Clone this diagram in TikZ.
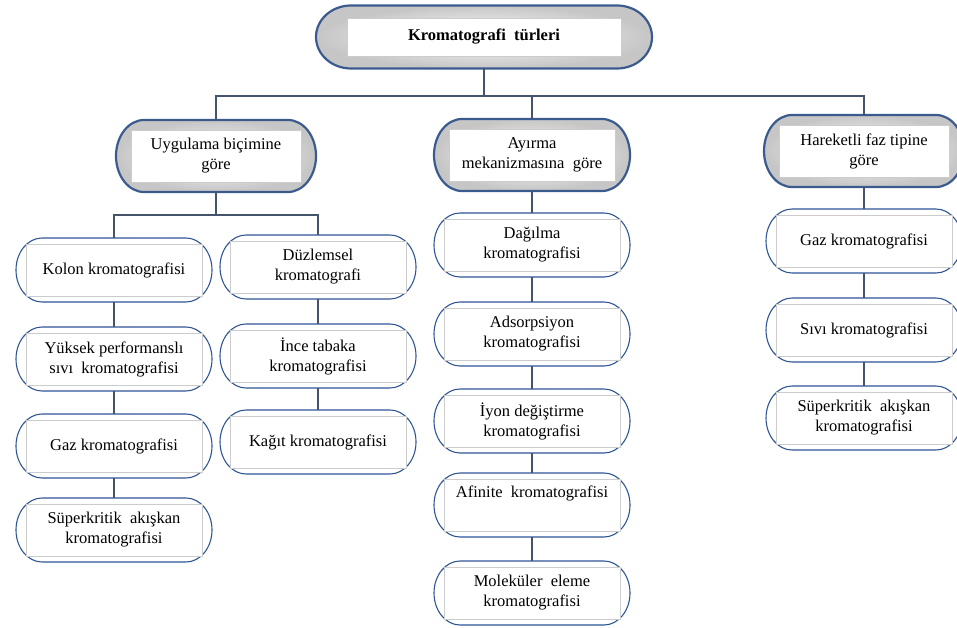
\documentclass[tikz,border=0pt]{standalone}
\usepackage{fontspec}
\setmainfont{Liberation Serif}
\usetikzlibrary{calc,backgrounds}
\definecolor{pillblue}{HTML}{2F5597}
\definecolor{mainblue}{HTML}{3B5B8E}
\definecolor{linkgray}{HTML}{44546A}
\begin{document}
\begin{tikzpicture}
        [x=1pt, y=1pt,
        font=\fontsize{16.5}{20}\selectfont,
        pill/.style 2 args={append after command={\pgfextra{\begin{pgfonlayer}{background}
            \path[#1] let \p1=(\tikzlastnode.south west), \p2=(\tikzlastnode.north east), \n1={(\y2-\y1)/2} in
            (\x1+#2,\y2) -- (\x2-#2,\y2) arc[start angle=90, end angle=-90, x radius=#2, y radius=\n1]
            -- (\x1+#2,\y1) arc[start angle=270, end angle=90, x radius=#2, y radius=\n1] -- cycle;
            \end{pgfonlayer}}}},
        box/.style={draw=gray!40, line width=0.8pt, fill=white, align=center, inner sep=0pt},
        mainpill/.style={draw=mainblue, line width=2.2pt, inner color=white, outer color=gray!45},
        leaf/.style={box, minimum width=176pt, minimum height=52pt, outer xsep=10pt, outer ysep=6pt,
            pill={draw=pillblue, line width=1.1pt, fill=white}{26pt}},
        main/.style={box, minimum width=170pt, minimum height=52pt, outer xsep=15pt, outer ysep=10pt,
            pill={mainpill}{28pt}},
        rootbox/.style={box, minimum width=274pt, minimum height=38pt, outer xsep=31pt, outer ysep=12.5pt,
            pill={mainpill}{35pt}},
        link/.style={draw=linkgray, line width=1.8pt}]
        \useasboundingbox (0,0) rectangle (957,-628);

        \node[rootbox] (root) at (484,-37) {\textbf{Kromatografi\ \ türleri}};
        \node[main] (uyg) at (216,-156) {Uygulama biçimine\\göre};
        \node[main, minimum width=166pt] (ayr) at (532,-155) {Ayırma\\mekanizmasına\ \ göre};
        \node[main] (har) at (864,-151) {Hareketli faz tipine\\göre};

        \node[leaf] (kolon) at (114,-270) {Kolon kromatografisi};
        \node[leaf] (hplc) at (114,-359) {Yüksek performanslı\\sıvı\ \ kromatografisi};
        \node[leaf] (gazU) at (114,-446) {Gaz kromatografisi};
        \node[leaf] (supU) at (114,-530) {Süperkritik\ \ akışkan\\kromatografisi};

        \node[leaf] (duz) at (318,-267) {Düzlemsel\\kromatografi};
        \node[leaf] (ince) at (318,-356) {İnce tabaka\\kromatografisi};
        \node[leaf] (kagit) at (318,-442) {Kağıt kromatografisi};

        \node[leaf] (dag) at (532,-245) {Dağılma\\kromatografisi};
        \node[leaf] (ads) at (532,-334) {Adsorpsiyon\\kromatografisi};
        \node[leaf] (iyon) at (532,-421) {İyon değiştirme\\kromatografisi};
        \node[leaf] (afi) at (532,-505) {Afinite\ \ kromatografisi\\\strut};
        \node[leaf] (mol) at (532,-593) {Moleküler\ \ eleme\\kromatografisi};

        \node[leaf] (gazH) at (864,-241) {Gaz kromatografisi};
        \node[leaf] (sivi) at (864,-330) {Sıvı kromatografisi};
        \node[leaf] (supH) at (864,-418) {Süperkritik\ \ akışkan\\kromatografisi};

        \coordinate (busT) at (484,-96);
        \coordinate (busU) at (216,-215);
        \draw[link] (root.south) -- (busT);
        \draw[link] (uyg.north) |- (busT) -| (har.north);
        \draw[link] (ayr.north) -- (ayr.north |- busT);
        \draw[link] (uyg.south) -- (busU);
        \draw[link] (kolon.north) |- (busU) -| (duz.north);

        \draw[link] (kolon.south) -- (hplc.north);
        \draw[link] (hplc.south) -- (gazU.north);
        \draw[link] (gazU.south) -- (supU.north);
        \draw[link] (duz.south) -- (ince.north);
        \draw[link] (ince.south) -- (kagit.north);
        \draw[link] (ayr.south) -- (dag.north);
        \draw[link] (dag.south) -- (ads.north);
        \draw[link] (ads.south) -- (iyon.north);
        \draw[link] (iyon.south) -- (afi.north);
        \draw[link] (afi.south) -- (mol.north);
        \draw[link] (har.south) -- (gazH.north);
        \draw[link] (gazH.south) -- (sivi.north);
        \draw[link] (sivi.south) -- (supH.north);
\end{tikzpicture}
\end{document}
